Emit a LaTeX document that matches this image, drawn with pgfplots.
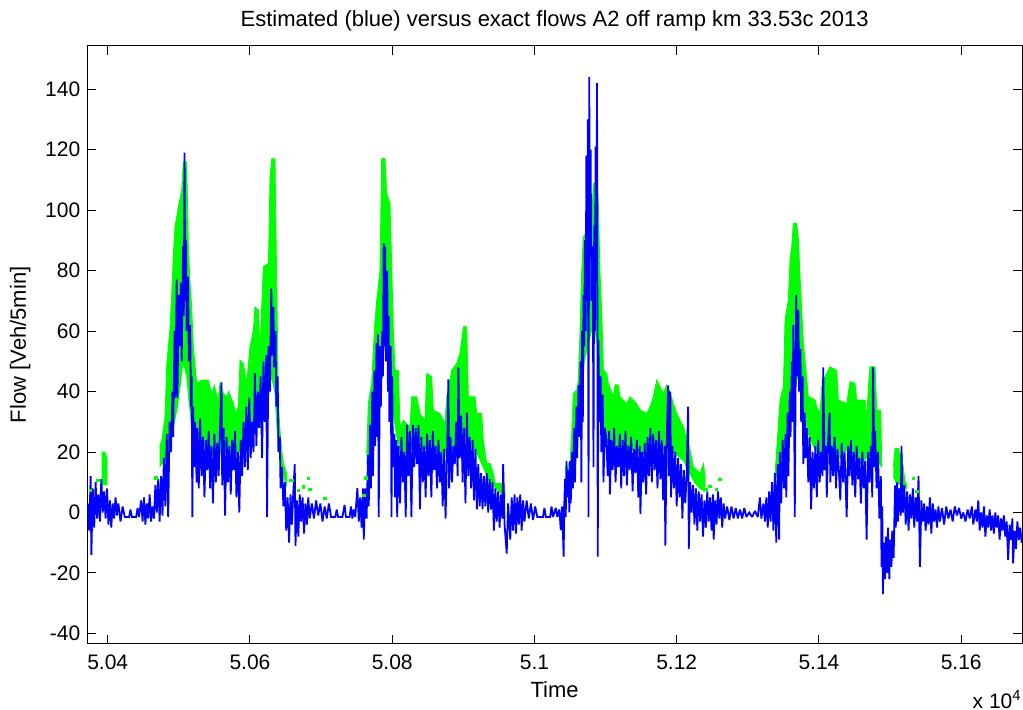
\documentclass[border=0pt]{standalone}
\usepackage{pgfplots}
\pgfplotsset{compat=1.18}
\usepackage{fontspec}
\setmainfont{Liberation Sans}
\definecolor{mblue}{RGB}{0,0,255}
\definecolor{mgreen}{RGB}{0,255,0}
\begin{document}
\begin{tikzpicture}
\path[use as bounding box] (-43.65pt,-33.15pt) rectangle (467.85pt,321.85pt);
\begin{axis}[
  name=ax, at={(0,0)}, anchor=south west,
  scale only axis, width=467.35pt, height=298.85pt,
  xmin=50371.3, xmax=51685.5, ymin=-43.4, ymax=154.3,
  xtick={50400,50600,50800,51000,51200,51400,51600},
  xticklabels={5.04,5.06,5.08,5.1,5.12,5.14,5.16},
  ytick={-40,-20,0,20,40,60,80,100,120,140},
  yticklabels={-40,-20,0,20,40,60,80,100,120,140},
  scaled x ticks=false, scaled y ticks=false,
  tick align=inside, major tick length=4.5pt,
  axis line style={black, line width=0.5pt},
  every tick/.style={black, line width=0.5pt},
  tick label style={font=\fontsize{10.5}{12}\selectfont},
  xticklabel style={yshift=-2.2pt},
  title={Estimated (blue) versus exact flows A2 off ramp km 33.53c 2013},
  title style={font=\fontsize{11}{13}\selectfont, at={(axis description cs:0.5,1.0318)}, anchor=base, yshift=-6pt},
  xlabel={Time},
  xlabel style={font=\fontsize{11}{13}\selectfont, at={(axis description cs:0.5,-0.0903)}, anchor=base},
  ylabel={Flow [Veh/5min]},
  ylabel style={font=\fontsize{11}{13}\selectfont, at={(axis description cs:-0.0719,0.5)}, anchor=center},
]
% exact flows (green)
\addplot[draw=mgreen, fill=mgreen, line width=0.4pt] coordinates {(50392,9)(50392,20)(50396,20)(50399,18)(50399,9)};
\addplot[draw=mgreen, fill=mgreen, line width=0.4pt] coordinates {
(50473,21.7)(50476,24)(50480.6,31.6)(50483,49)(50487.6,61)(50490,72.5)(50492.3,85)(50494.6,94.5)(50499.3,101)(50504,106.6)(50506.3,116)(50511,116)(50513.4,88)(50515.7,76)(50518,68)(50520.4,55)(50525,42.7)(50532,43.8)(50541.5,43.8)(50546,39.4)(50550,42)(50555,37)(50558,43)(50562.6,39.4)(50567.3,38.3)(50570,40)(50576.6,36)(50580,33)(50583.7,35)(50586,50.4)(50590.7,49.3)(50595.4,42.7)(50600,54.8)(50604.8,60.3)(50607,68)(50611.8,67)(50614,53.7)(50618.8,81.3)(50626,82.4)(50628.2,111)(50630.6,117)(50635.2,117)(50637.6,76)(50640,36)(50642.3,27)(50644.6,20.6)(50647,16.2)(50651.6,12.9)
(50651.6,9)(50647,12)(50644,14)(50641,20)(50638,28)(50635,40)(50630,45)(50626,38)(50620,32)(50614,28)(50607,28)(50600,22)(50590,21)(50584,20)(50575,19)(50565,20)(50555,19)(50545,19)(50535,18)(50527,20)(50520,25)(50515,35)(50511,45)(50506,50)(50502,42)(50498,35)(50494,30)(50490,25)(50486,20)(50481,17)(50476,16)(50473,15)};
\addplot[draw=mgreen, fill=mgreen, line width=0.4pt] coordinates {
(50764.1,19)(50766.4,36)(50771.1,42.7)(50773.5,53.7)(50775.8,63.6)(50778.2,70.2)(50780.5,74.7)(50782.8,80.2)(50785.2,117.1)(50789.9,117.1)(50792.2,105.5)(50796.9,102.2)(50799.3,81.3)(50801.6,60.3)(50803.9,47)(50808.6,47)(50811,28.3)(50815.7,30.5)(50825,28.3)(50827.4,38.3)(50834.4,38.3)(50839.1,32.7)(50846.1,30.5)(50848.5,46)(50855.5,44.9)(50857.8,33.8)(50867.2,32.7)(50874.2,29.4)(50876.6,38.3)(50881.3,43.8)(50883.6,47)(50890.6,49.3)(50895.3,52.6)(50900,61.4)(50904.7,61.4)(50907.1,38.3)(50916.4,38.3)(50918.8,32.7)(50925.8,32.7)(50928.1,23.9)(50932.8,16.2)(50937.5,16.2)(50942.2,12.9)(50944.5,9.6)(50956.3,9.6)(50958.7,7)
(50958.7,5)(50950,7)(50942,9)(50935,11)(50928,15)(50922,18)(50915,21)(50908,23)(50902,26)(50895,25)(50888,21)(50880,20)(50872,18)(50865,20)(50855,22)(50845,21)(50835,20)(50825,21)(50815,19)(50808,23)(50803,30)(50799,38)(50795,50)(50790,60)(50786,45)(50782,40)(50778,35)(50774,28)(50770,22)(50767,17)(50764.1,16)};
\addplot[draw=mgreen, fill=mgreen, line width=0.4pt] coordinates {
(51043,8.5)(51045.3,14)(51047.6,16.2)(51050,16.2)(51052.3,26.2)(51054.7,39.4)(51059.4,40.5)(51061.7,43.8)(51064,59.3)(51066.4,79.1)(51068.7,91.2)(51078.1,94.5)(51080.5,96.7)(51082.8,108.9)(51088.4,108.9)(51089.8,102.3)(51092.2,79.1)(51094.5,67)(51096.9,47.1)(51101.5,46)(51103.9,42.7)(51110.9,38.3)(51113.3,42.2)(51117.9,42.2)(51120.3,38.3)(51129.7,36)(51134.4,38.3)(51143.7,36)(51148.4,33.9)(51157.8,32.8)(51162.5,35)(51167.2,38.3)(51171.9,43.8)(51176.5,41.6)(51181.2,39.4)(51185.9,42.2)(51190.6,40)(51195.3,36)(51200,32.8)(51204.6,30.6)(51209.3,28.4)(51214,25)(51218.7,20.7)(51223.4,15.1)(51232.8,12.9)(51237.5,16.2)(51239.8,12)
(51239.8,7)(51232,8)(51225,10)(51218,13)(51210,17)(51200,19)(51190,21)(51180,19)(51170,21)(51160,19)(51150,20)(51140,21)(51130,20)(51120,22)(51110,21)(51102,23)(51097,30)(51093,40)(51089,55)(51085,60)(51080,60)(51075,55)(51070,50)(51066,40)(51062,30)(51058,22)(51054,16)(51050,10)(51046,7)(51043,6)};
\addplot[draw=mgreen, fill=mgreen, line width=0.4pt] coordinates {
(51338.3,12.9)(51340.6,20.7)(51345.3,37.2)(51350,41.6)(51352.3,63.7)(51357,70.3)(51359.3,83.5)(51361.7,88)(51364,95.7)(51368.7,95.7)(51371,90.7)(51373.4,78)(51378.1,56)(51380.4,50.5)(51385.1,38.3)(51394.5,37.2)(51396.8,35)(51401.5,32.8)(51403.9,41.6)(51408.6,44.9)(51415.6,48.2)(51425,47)(51427.3,37.2)(51439,36)(51443.7,43.3)(51450.7,42.7)(51453.1,37.2)(51464.8,37.2)(51467.1,30.6)(51469.5,41.6)(51471.8,48.2)(51478.9,48.2)(51481.2,33.9)(51486.8,33.9)(51488.2,17.4)
(51488.2,15)(51480,18)(51470,19)(51460,16)(51450,19)(51440,21)(51430,18)(51420,19)(51410,21)(51400,19)(51392,22)(51385,26)(51380,32)(51375,40)(51370,45)(51365,40)(51360,35)(51355,28)(51350,20)(51345,16)(51340,12)(51338.3,10)};
\addplot[draw=mgreen, fill=mgreen, line width=0.4pt] coordinates {(51504.6,15.2)(51507,21.2)(51511.7,21.2)(51514,18.6)(51516.4,19)(51521,10.2)(51523.4,9.6)(51523.4,8)(51515,9)(51508,10)(51504.6,12)};
\addplot[only marks, mark=square*, mark size=0.6pt, color=mgreen] coordinates {(50376,7.4)(50386,10.7)(50468,11.5)(50657,10.7)(50660,10.7)(50668,7.4)(50675,8.5)(50682,11.3)(50684.4,7.6)(50705.5,4.6)(50760.4,5.7)(50763.2,11.5)(51242,7.6)(51246.9,8.7)(51256.2,7.6)(51261,11)(51532.8,11.3)(51537.5,6.9)};
% estimated flows (blue)
\addplot[color=mblue, line width=0.9pt, line join=miter, miter limit=2] coordinates {
(50372,3)(50374,-6)(50376,12)(50377,-14)(50379,8)(50381,-5)(50383,10)(50385,-2)(50387,6)(50389,-3)(50391,11)(50393,0)(50395,7)(50397,-2)(50399,8)(50401,-4)(50403,4)(50405,-5)(50407,3)(50409,-2)(50411,5)(50413,-1)(50415,3)(50418,-3)(50421,2)(50424,-1.5)(50430,-1.5)(50432,1)(50434,-1.5)(50440,-1.5)(50442,1.5)(50444,-1.5)(50447,4)(50449,-3)(50451,5)(50453,-4)(50455,3)(50457,-2)(50459,6)(50461,-3)(50463,2)(50465,-2)(50467,9)(50469,0)(50471,11)(50473,-3)
(50475,12)(50477,-1)(50479,18)(50481,2)(50483,26)(50485,-1.5)(50487,30)(50489,20)(50491,40)(50492,25)(50494,60)(50495,38)(50497,77)(50498,38)(50500,72)(50501,55)(50503,76)(50504,50)(50506,88)(50507,65)(50508,119)(50509,70)(50510,90)(50511,60)(50513,78)(50514,50)(50516,62)(50517,35)(50518,45)(50519,-1.5)(50520,35)(50522,15)(50523,30)(50525,10)
(50526,28)(50528,8)(50530,31)(50532,12)(50534,25)(50536,5)(50538,24)(50540,14)(50542,27)(50544,8)(50546,22)(50548,3)(50550,26)(50552,10)(50554,23)(50556,12)(50558,29)(50560,43)(50561,9)(50563,28)(50565,-1)(50567,25)(50569,10)(50571,22)(50573,6)(50575,24)(50577,14)(50579,27)(50581,5)(50583,20)(50585,0)(50587,24)(50589,12)(50591,30)(50593,15)(50595,35)(50597,14)(50599,38)(50601,18)(50603,30)
(50605,20)(50607,46)(50609,22)(50611,40)(50613,28)(50615,45)(50617,18)(50619,50)(50621,30)(50623,52)(50624,-1.5)(50626,55)(50628,40)(50630,74)(50631,52)(50633,68)(50634,48)(50636,60)(50637,35)(50639,45)(50640,20)(50642,25)(50643,8)(50645,15)(50647,2)(50649,10)(50651,-6)
(50653,5)(50655,-10)(50657,6)(50659,-4)(50661,7)(50663,16)(50664,-11)(50666,4)(50668,-8)(50670,6)(50672,-3)(50674,5)(50676,-7)(50678,3)(50680,-4)(50682,5)(50684,-2)(50687,3)(50690,-2)(50693,4)(50696,-1)(50699,3)(50702,-3)(50705,2)(50708,-2)(50711,3)(50714,-1.5)(50720,-1.5)(50722,1)(50724,-1.5)(50730,-1.5)(50733,2.5)(50735,-1.5)(50740,-1.5)(50742,2)(50744,-2)(50746,1)(50748,-1.5)(50751,8)(50753,-3)(50755,5)(50757,-5)(50759,8)(50760,-9)
(50762,8)(50764,-2)(50766,19)(50767,2)(50769,29)(50770,8)(50772,40)(50773,12)(50775,47)(50776,22)(50778,56)(50779,25)(50780,59)(50781,-1.5)(50783,55)(50784,35)(50786,60)(50787,45)(50788,89)(50789,55)(50790,88)(50791,50)(50793,80)(50794,40)(50795,65)(50796,30)(50798,55)(50799,-1.5)(50800,45)(50801,15)(50803,26)(50804,5)(50806,24)(50807,-1.5)
(50809,22)(50811,3)(50813,25)(50815,10)(50817,20)(50819,-1.5)(50821,29)(50823,12)(50825,27)(50827,-1.5)(50829,29)(50831,15)(50833,28)(50835,16)(50837,29)(50839,1)(50841,25)(50843,10)(50845,22)(50847,5)(50849,26)(50851,12)(50853,24)(50855,5)(50857,27)(50859,14)(50861,22)(50863,8)(50865,24)(50867,10)(50869,20)(50871,2)(50873,21)(50875,-2)(50877,18)(50879,44)(50880,8)(50882,25)(50884,10)(50886,22)(50888,16)(50890,30)(50892,12)(50893,48)(50895,18)(50897,32)(50899,10)(50901,28)(50903,3)(50905,33)(50907,12)(50909,25)(50911,8)(50913,24)(50915,4)(50917,21)(50919,1)(50921,16)(50923,2)(50925,13)(50927,1)(50929,12)(50931,2)(50933,13)(50935,0)(50937,11)(50939,1)(50941,10)(50943,-6)(50945,8)(50947,-3)(50949,7)(50951,-5)(50953,6)(50955,-2)(50956,16)(50958,-4)(50961,-13.6)(50963,3)(50966,-9)(50968,5)(50970,-6)(50972,6)(50974,-7)(50976,5)(50978,-4)(50980,6)(50982,-6)(50984,4)(50986,-3)(50989,4)(50992,-2)(50995,3)(50998,-2.5)(51001,2)(51004,-1.5)(51012,-1.5)(51014,1.5)(51016,-1.5)(51022,-1.5)(51024,2)(51026,-1.5)(51030,1.5)(51032,-1.5)(51035,1)(51037,-5.8)(51039,2)(51041,-14.6)(51042,3)
(51043,11)(51044,-1.5)(51045,17)(51046,5)(51048,14)(51049,0)(51050,17)(51051,3)(51053,20)(51054,8)(51056,28)(51057,10)(51059,35)(51060,18)(51062,42)(51063,25)(51065,50)(51066,10)(51067,60)(51068,30)(51069,72)(51070,55)(51071,90)(51072,60)(51073,118)(51074,70)(51075,130)(51076,-1.5)(51077,144)(51078,90)(51079,120)(51080,70)(51082,88)(51083,15)(51084,95)(51085,60)(51086,121)(51087,80)(51088,142)(51089,-14.6)(51090,57)(51091,30)(51093,45)(51094,20)(51096,39)(51097,10)(51099,28)
(51101,25)(51103,12)(51105,27)(51106,6)(51108,24)(51110,14)(51112,28)(51114,10)(51116,22)(51118,15)(51120,26)(51122,8)(51124,24)(51126,12)(51128,27)(51130,9)(51132,22)(51134,14)(51136,25)(51138,7)(51140,21)(51142,13)(51144,24)(51146,5)(51148,22)(51149,-0.5)(51151,20)(51153,10)(51155,23)(51157,6)(51159,25)(51161,12)(51163,28)(51165,10)(51167,26)(51169,14)(51171,24)(51173,8)(51175,27)(51177,11)(51179,24)(51181,4)(51183,22)(51184,-11)(51186,25)(51188,42)(51189,12)(51191,40)(51192,5)(51194,22)(51196,8)(51198,20)(51200,2)(51202,18)(51204,5)(51206,16)(51208,-2)(51210,14)(51212,3)(51214,12)(51216,35)(51217,-12)(51219,10)(51221,0)(51223,9)(51225,-4)(51227,8)(51229,-6)(51231,7)(51233,-3)
(51235,6)(51237,-8)(51239,4)(51241,-5)(51243,7)(51245,-3)(51247,5)(51249,-6)(51251,6)(51252,-9)(51254,4)(51256,-4)(51258,7)(51260,-2)(51262,5)(51264,-5)(51266,3)(51268,-2)(51271,2)(51274,-2.5)(51277,2)(51280,-2)(51283,1.5)(51286,-2)(51289,1)(51292,-2)(51295,1.5)(51298,-1.5)(51302,0)(51306,-1.5)(51310,0.5)(51314,-1.5)(51317,5)(51319,-2)(51322,3)(51324,-3)(51326,5)(51328,-5)(51330,7)(51332,-3)(51334,10)(51336,-6)(51338,13)(51340,-10)(51342,16)
(51344,-9)(51345,20)(51347,3)(51349,24)(51351,8)(51353,26)(51354,5)(51356,33)(51357,12)(51359,40)(51360,25)(51362,50)(51363,30)(51364,62)(51365,40)(51366,-1.5)(51368,72)(51369,45)(51371,67)(51372,40)(51374,54)(51375,30)(51377,45)(51378,16)(51380,33)(51381,18)(51383,28)(51385,10)(51387,25)(51389,1)
(51391,20)(51393,8)(51395,22)(51397,5)(51399,24)(51401,10)(51403,20)(51405,12)(51406,48)(51408,14)(51410,22)(51411,5)(51413,24)(51415,33)(51416,10)(51418,22)(51420,12)(51422,25)(51424,8)(51426,21)(51428,14)(51430,4)(51432,23)(51434,10)(51436,20)(51438,6)(51439,-1.5)(51441,22)(51443,12)(51445,24)(51447,9)(51449,20)(51451,5)(51453,22)(51455,11)(51457,18)(51459,3)(51461,20)(51463,8)(51465,17)(51467,-9)(51469,20)(51471,10)(51473,22)(51475,5)(51476,48)(51478,15)(51479,27)(51481,8)(51483,20)(51485,-2)(51487,12)
(51488,-18)(51489,2)(51490,-27)(51491,-10)(51493,-22)(51494,-8)(51496,-20)(51497,-5)(51499,-22)(51500,-9)(51502,-18)(51503,-6)(51505,-15)(51507,9)(51508,-5)(51510,10)
(51511,-3)(51513,8)(51515,-1)(51516,22)(51518,0)(51520,9)(51522,-4)(51524,7)(51526,-6)(51528,6)(51530,-2)(51532,8)(51534,-5)(51536,5)(51538,-3)(51540,12)(51542,-18)(51544,4)
(51546,-3)(51548,3)(51550,-6)(51552,2)(51554,-4)(51556,5)(51558,-7)(51560,3)(51562,-3)(51564,1)(51566,-5)(51568,2)(51570,-3)(51573,1.5)(51576,-4)(51579,2)(51582,-2)(51585,1)(51588,-3)(51591,2)(51594,-1)(51597,1.5)(51600,-2)(51603,0)(51606,-3)(51609,1)(51612,-2)(51615,2)(51617,-4)(51620,1)(51622,-3)(51624,4)(51626,-6)(51628,0)(51630,-5)(51632,2)(51634,-8)(51636,-1)(51638,-5)(51640,1)(51642,-6)(51644,-1)(51646,-7)(51648,0)(51650,-5)(51652,-1)(51654,-9)(51656,-2)(51658,-6)(51660,-1)(51662,-8)(51664,-3)(51666,-15.7)(51668,-4)(51670,-9)(51672,-2)(51673,-16.8)(51675,-6)(51677,-12)(51679,-3)(51681,-9)(51683,-5)(51685,-10)};
\end{axis}
\node[anchor=base east, inner sep=0pt, font=\fontsize{10.5}{12}\selectfont] at ([yshift=-32.3pt]ax.south east) {x 10\textsuperscript{4}};
\end{tikzpicture}
\end{document}
